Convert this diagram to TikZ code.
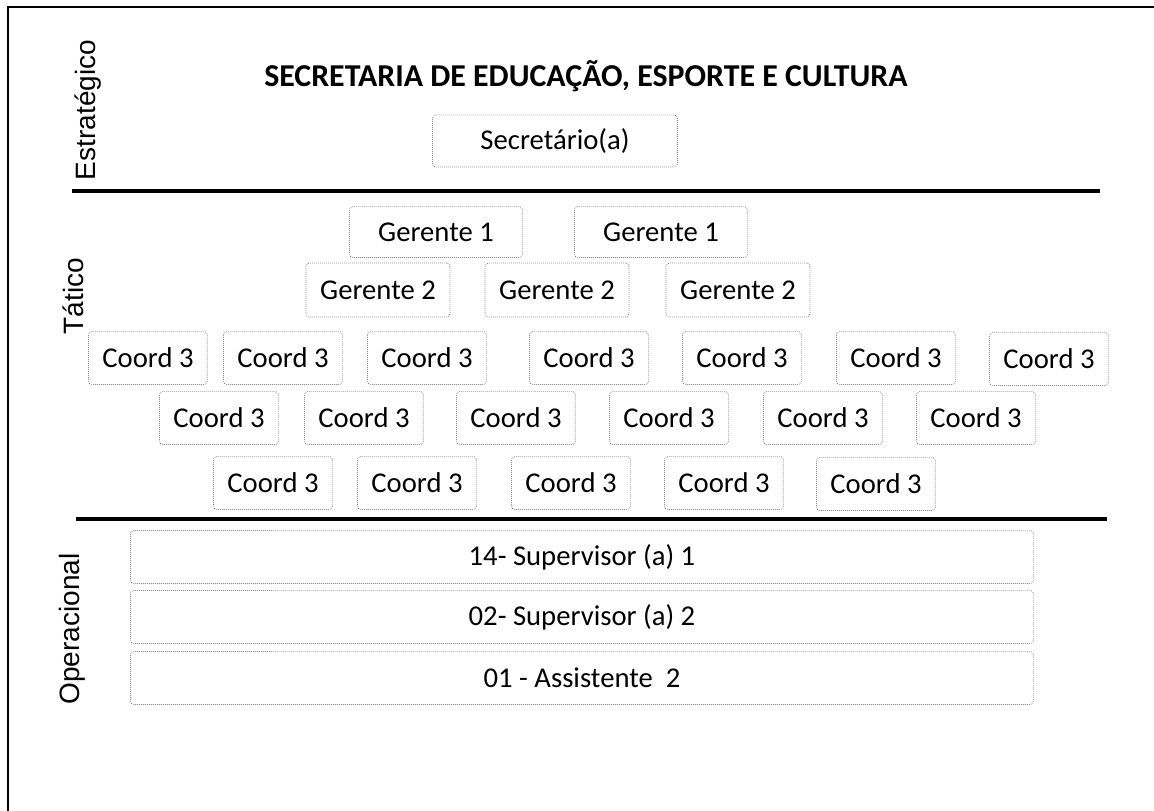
\documentclass[tikz,border=0pt]{standalone}
\usepackage{fontspec}
\setmainfont{Carlito}
\newfontfamily\arialfont{Liberation Sans}
\tikzset{
  caixa/.style={draw=black!65, densely dotted, line width=0.5pt, rounded corners=2.5pt, inner sep=0pt, font=\fontsize{21.5}{25}\selectfont},
  coordbox/.style={caixa, minimum width=89.25pt, minimum height=39.75pt},
  ger1box/.style={caixa, minimum width=129.75pt, minimum height=38.25pt},
  ger2box/.style={caixa, minimum width=108pt, minimum height=40.5pt},
  opbox/.style={caixa, minimum width=677.25pt, minimum height=39.75pt},
  nivel/.style={rotate=90, font=\arialfont\fontsize{21}{25}\selectfont},
  divisa/.style={line width=2.4pt}
}
\begin{document}
\begin{tikzpicture}[x=0.75pt, y=-0.75pt]
                    \useasboundingbox (0,0) rectangle (1154,811);
                    \draw[line width=1.1pt] (8,811) -- (8,7) -- (1154,7);
                    \node[nivel] (estrat) at (88,110) {Estratégico};
                    \node[nivel] (tatico) at (73,296) {Tático};
                    \node[nivel] (operac) at (72,629) {Operacional};
                    \node[font=\bfseries\fontsize{23.9}{28}\selectfont] (titulo) at (586,76) {SECRETARIA DE EDUCAÇÃO, ESPORTE E CULTURA};
                    \node[caixa, minimum width=183.75pt, minimum height=39pt] (secret) at (555,141) {Secretário(a)};
                    \draw[divisa] (72,191) -- (1100,191);
                    \node[ger1box] (g1a) at (436,232) {Gerente 1};
                    \node[ger1box] (g1b) at (661,232) {Gerente 1};
                    \node[ger2box] (g2a) at (378,290) {Gerente 2};
                    \node[ger2box] (g2b) at (557,290) {Gerente 2};
                    \node[ger2box] (g2c) at (738,290) {Gerente 2};
                    \node[coordbox] (c1a) at (148,358) {Coord 3};
                    \node[coordbox] (c1b) at (283,358) {Coord 3};
                    \node[coordbox] (c1c) at (427,358) {Coord 3};
                    \node[coordbox] (c1d) at (589,358) {Coord 3};
                    \node[coordbox] (c1e) at (742,358) {Coord 3};
                    \node[coordbox] (c1f) at (896,358) {Coord 3};
                    \node[coordbox] (c1g) at (1049,359) {Coord 3};
                    \node[coordbox] (c2a) at (219,418) {Coord 3};
                    \node[coordbox] (c2b) at (364,418) {Coord 3};
                    \node[coordbox] (c2c) at (516,418) {Coord 3};
                    \node[coordbox] (c2d) at (669,418) {Coord 3};
                    \node[coordbox] (c2e) at (823,418) {Coord 3};
                    \node[coordbox] (c2f) at (976,418) {Coord 3};
                    \node[coordbox] (c3a) at (273,483) {Coord 3};
                    \node[coordbox] (c3b) at (417,483) {Coord 3};
                    \node[coordbox] (c3c) at (571,483) {Coord 3};
                    \node[coordbox] (c3d) at (724,483) {Coord 3};
                    \node[coordbox] (c3e) at (876,484) {Coord 3};
                    \draw[divisa] (76,519) -- (1107,519);
                    \node[opbox] (sup1) at (582,557) {14- Supervisor (a) 1};
                    \node[opbox] (sup2) at (582,617) {02- Supervisor (a) 2};
                    \node[opbox] (assist) at (582,678) {01 - Assistente~ 2};
                \end{tikzpicture}
\end{document}
